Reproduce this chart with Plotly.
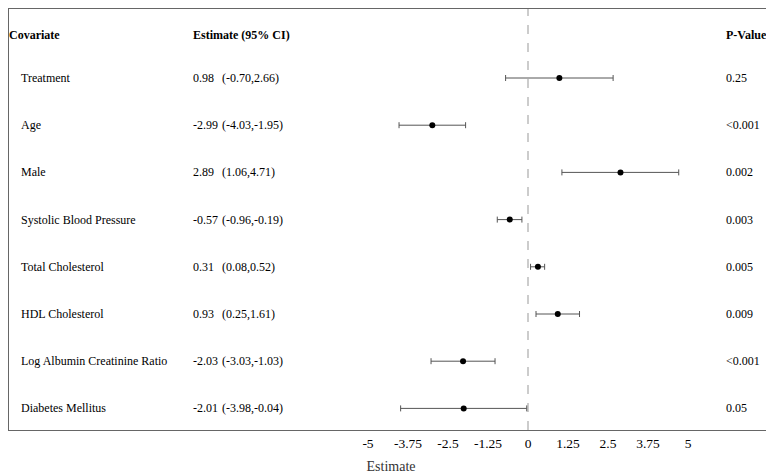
import plotly.graph_objects as go

covariates = ["Treatment", "Age", "Male", "Systolic Blood Pressure", "Total Cholesterol",
              "HDL Cholesterol", "Log Albumin Creatinine Ratio", "Diabetes Mellitus"]
estimates = [0.98, -2.99, 2.89, -0.57, 0.31, 0.93, -2.03, -2.01]
lower = [-0.70, -4.03, 1.06, -0.96, 0.08, 0.25, -3.03, -3.98]
upper = [2.66, -1.95, 4.71, -0.19, 0.52, 1.61, -1.03, -0.04]
pvalues = ["0.25", "<0.001", "0.002", "0.003", "0.005", "0.009", "<0.001", "0.05"]
tick_vals = [-5, -3.75, -2.5, -1.25, 0, 1.25, 2.5, 3.75, 5]
tick_text = ["-5", "-3.75", "-2.5", "-1.25", "0", "1.25", "2.5", "3.75", "5"]
headers = ["Covariate", "Estimate (95% CI)", "P-Value"]

OFF = 8  # page body margin
W, H = 774 - OFF, 474 - OFF
ML, MR, MT, MB = 1, 1, 1, 44
plot_w = W - ML - MR
px_per_unit = 32.0
zero_px = 528 - OFF
x_left = (ML - zero_px) / px_per_unit
x_right = (W - MR - zero_px) / px_per_unit

row_px = 47.2
first_row_px = 78 - OFF
bottom_px = H - MB
y_top = 1 - (first_row_px - MT) / row_px
y_bot = 1 + (bottom_px - first_row_px) / row_px
header_y = 1 - (first_row_px - (35 - OFF)) / row_px

def paper_x(px_page):
    return (px_page - OFF - ML) / plot_w

rows = list(range(1, len(covariates) + 1))

fig = go.Figure()
fig.add_trace(go.Scatter(
    x=estimates, y=rows, mode="markers",
    marker=dict(color="black", size=6),
    error_x=dict(type="data", symmetric=False,
                 array=[u - e for u, e in zip(upper, estimates)],
                 arrayminus=[e - l for e, l in zip(estimates, lower)],
                 color="#555555", thickness=1, width=3),
    showlegend=False, hoverinfo="skip",
))

fig.add_shape(type="line", xref="x", yref="paper", x0=0, x1=0, y0=0, y1=1,
              line=dict(color="#999999", width=1, dash="dash"), layer="below")

FAM = "Liberation Serif, Times New Roman, serif"
font = dict(family=FAM, size=12, color="black")

ann = []
for hx, htext in zip([7, 191, 724], headers):
    ann.append(dict(x=paper_x(hx), y=header_y, xref="paper", yref="y", text="<b>" + htext + "</b>",
                    showarrow=False, xanchor="left", yanchor="middle", font=font))
for r, c, e, lo, hi, p in zip(rows, covariates, estimates, lower, upper, pvalues):
    ann.append(dict(x=paper_x(19), y=r, xref="paper", yref="y", text=c,
                    showarrow=False, xanchor="left", yanchor="middle", font=font))
    ann.append(dict(x=paper_x(191), y=r, xref="paper", yref="y", text=f"{e:.2f}",
                    showarrow=False, xanchor="left", yanchor="middle", font=font))
    ann.append(dict(x=paper_x(220), y=r, xref="paper", yref="y", text=f"({lo:.2f},{hi:.2f})",
                    showarrow=False, xanchor="left", yanchor="middle", font=font))
    ann.append(dict(x=paper_x(724), y=r, xref="paper", yref="y", text=p,
                    showarrow=False, xanchor="left", yanchor="middle", font=font))

fig.update_layout(
    width=W, height=H,
    margin=dict(l=ML, r=MR, t=MT, b=MB),
    paper_bgcolor="white", plot_bgcolor="white",
    annotations=ann,
    xaxis=dict(range=[x_left, x_right], tickvals=tick_vals, ticktext=tick_text,
               showgrid=False, zeroline=False, showline=True, mirror=True,
               linecolor="#666666", linewidth=1, ticks="outside", ticklen=1, tickcolor="white",
               tickfont=dict(family=FAM, size=13.5, color="black"),
               title=dict(text="Estimate", standoff=12,
                          font=dict(family=FAM, size=14, color="#333333"))),
    yaxis=dict(range=[y_bot, y_top], showgrid=False, zeroline=False, showticklabels=False,
               showline=True, mirror=True, linecolor="#666666", linewidth=1),
)

fig.write_html("out.html")
